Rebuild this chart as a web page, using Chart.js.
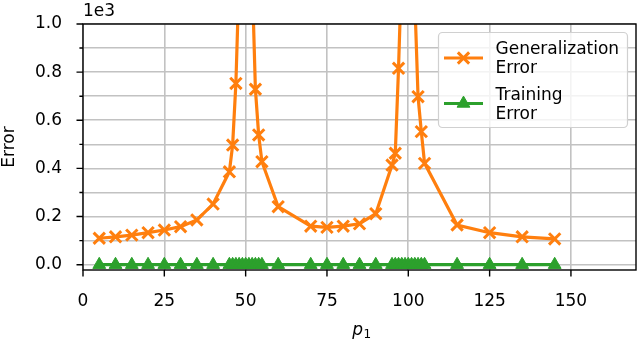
<!DOCTYPE html>
<html><head><meta charset="utf-8">
<script src="https://cdn.jsdelivr.net/npm/chart.js@4/dist/chart.umd.min.js"></script>
<style>html,body{margin:0;padding:0;background:#fff}</style>
</head><body>
<canvas id="c" width="638" height="342"></canvas>
<script>
// ---- data ----
const pValues = [5,10,15,20,25,30,35,40,45,46,47,48,49,50,51,52,53,54,55,60,70,75,80,85,90,95,96,97,98,99,100,101,102,103,104,105,115,125,135,145];
const generalizationError = [110,116,123,133,144,158,186,252,386,497,753,1200,2500,4000,2500,1200,729,539,428,241,160,155,160,170,212,414,463,816,1250,2500,4000,2500,1100,698,553,421,165,133,116,107];
const trainingError = [0,0,0,0,0,0,0,0,0,0,0,0,0,0,0,0,0,0,0,0,0,0,0,0,0,0,0,0,0,0,0,0,0,0,0,0,0,0,0,0];
const seriesLabels = ['Generalization\nError', 'Training\nError'];
const xTicks = [0,25,50,75,100,125,150];
const yTickValues = [0,100,200,300,400,500,600,700,800,900,1000];
const yMajorTicks = [0,200,400,600,800,1000];
const yTickLabels = ['0.0','0.2','0.4','0.6','0.8','1.0'];
const yOffsetText = '1e3';
const xAxisTitle = ['p','1'];
const yAxisTitle = 'Error';

const FONT = "'DejaVu Sans', sans-serif";
const FS = 17;

function toPoints(xs, ys){ return xs.map((x,i)=>({x:x, y:ys[i]})); }

function drawMarker(c, style, r, bw, x, y, color){
  c.save();
  c.strokeStyle = color; c.fillStyle = color; c.lineWidth = bw;
  if (Chart.helpers && Chart.helpers.drawPoint) {
    Chart.helpers.drawPoint(c, {pointStyle: style, radius: r, rotation: 0, borderWidth: bw}, x, y);
  }
  c.restore();
}

function noPad(s){ s.paddingTop = 0; s.paddingBottom = 0; s.paddingLeft = 0; s.paddingRight = 0; }

const decor = {
  id: 'decor',
  afterDatasetsDraw(chart){
    const c = chart.ctx, a = chart.chartArea;
    const xs = chart.scales.x, ys = chart.scales.y;
    c.save();
    c.strokeStyle = '#000'; c.lineWidth = 1.4; c.lineCap = 'butt';
    c.strokeRect(a.left, a.top, a.right - a.left, a.bottom - a.top);
    c.beginPath();
    xTicks.forEach(v => { const px = xs.getPixelForValue(v); c.moveTo(px, a.bottom); c.lineTo(px, a.bottom + 6.5); });
    yTickValues.forEach(v => {
      const py = ys.getPixelForValue(v);
      const len = yMajorTicks.includes(v) ? 6.5 : 3.6;
      c.moveTo(a.left - len, py); c.lineTo(a.left, py);
    });
    c.stroke();
    c.fillStyle = '#000';
    c.font = FS + 'px ' + FONT;
    c.textAlign = 'left'; c.textBaseline = 'alphabetic';
    c.fillText(yOffsetText, a.left, a.top - 8);
    c.save();
    c.translate(10, (a.top + a.bottom) / 2);
    c.rotate(-Math.PI / 2);
    c.textAlign = 'center'; c.textBaseline = 'middle';
    c.fillText(yAxisTitle, 0, 0);
    c.restore();
    c.font = 'italic ' + FS + 'px ' + FONT;
    const wP = c.measureText(xAxisTitle[0]).width;
    c.font = Math.round(FS * 0.7) + 'px ' + FONT;
    const w1 = c.measureText(xAxisTitle[1]).width;
    const cx = (a.left + a.right) / 2;
    const x0 = cx - (wP + w1) / 2 + 2;
    const base = 335;
    c.font = 'italic ' + FS + 'px ' + FONT;
    c.fillText(xAxisTitle[0], x0, base);
    c.font = Math.round(FS * 0.7) + 'px ' + FONT;
    c.fillText(xAxisTitle[1], x0 + wP + 0.5, base + 3);
    c.restore();
  },
  afterDraw(chart){
    const c = chart.ctx, a = chart.chartArea;
    const W = 189, H = 95, R = 4;
    const right = a.right - 8.5, top = a.top + 8.5, left = right - W;
    c.save();
    c.beginPath();
    c.moveTo(left + R, top);
    c.arcTo(left + W, top, left + W, top + H, R);
    c.arcTo(left + W, top + H, left, top + H, R);
    c.arcTo(left, top + H, left, top, R);
    c.arcTo(left, top, left + W, top, R);
    c.closePath();
    c.fillStyle = 'rgba(255,255,255,0.8)';
    c.fill();
    c.strokeStyle = '#d0d0d0'; c.lineWidth = 1.2;
    c.stroke();
    const entryTop = [top, top + 45.5];
    chart.data.datasets.forEach((ds, i) => {
      const t = entryTop[i];
      const hy = t + 25.5;
      c.strokeStyle = ds.borderColor; c.lineWidth = ds.borderWidth; c.lineCap = 'butt';
      c.beginPath(); c.moveTo(left + 5.5, hy); c.lineTo(left + 44.5, hy); c.stroke();
      drawMarker(c, ds.pointStyle, ds.pointRadius, ds.pointBorderWidth, left + 25, hy, ds.borderColor);
      c.fillStyle = '#000';
      c.font = FS + 'px ' + FONT;
      c.textAlign = 'left'; c.textBaseline = 'alphabetic';
      ds.label.split('\n').forEach((line, k) => c.fillText(line, left + 57, t + 21.5 + k * 19));
    });
    c.restore();
  }
};

new Chart(document.getElementById('c').getContext('2d'), {
  type: 'line',
  data: {
    datasets: [
      {
        label: seriesLabels[0],
        data: toPoints(pValues, generalizationError),
        borderColor: '#ff7f0e', backgroundColor: '#ff7f0e',
        borderWidth: 3.2, tension: 0,
        pointStyle: 'crossRot', pointRadius: 8, pointBorderWidth: 3,
        pointBackgroundColor: '#ff7f0e', pointBorderColor: '#ff7f0e',
        order: 1
      },
      {
        label: seriesLabels[1],
        data: toPoints(pValues, trainingError),
        borderColor: '#2ca02c', backgroundColor: '#2ca02c',
        borderWidth: 3.2, tension: 0,
        pointStyle: 'triangle', pointRadius: 7.4, pointBorderWidth: 1,
        pointBackgroundColor: '#2ca02c', pointBorderColor: '#2ca02c',
        order: 0
      }
    ]
  },
  options: {
    responsive: false, animation: false, devicePixelRatio: 1,
    layout: { autoPadding: false, padding: { left: 0, right: 2, top: 24, bottom: 0 } },
    plugins: { legend: { display: false }, tooltip: { enabled: false }, title: { display: false } },
    scales: {
      x: {
        type: 'linear', min: 0, max: 170,
        afterBuildTicks: s => { s.ticks = xTicks.map(v => ({ value: v })); },
        afterFit: s => { s.height = 72; noPad(s); },
        border: { display: false },
        grid: { color: '#c2c2c2', lineWidth: 1.6, drawTicks: false },
        ticks: { color: '#000', padding: 21, maxRotation: 0, font: { family: FONT, size: FS }, callback: v => String(v) }
      },
      y: {
        type: 'linear', min: -22, max: 1000,
        afterBuildTicks: s => { s.ticks = yTickValues.map(v => ({ value: v })); },
        afterFit: s => { s.width = 83; noPad(s); },
        border: { display: false },
        grid: { color: '#c2c2c2', lineWidth: 1.6, drawTicks: false },
        ticks: {
          color: '#000', padding: 21, font: { family: FONT, size: FS },
          callback: v => { const k = yMajorTicks.indexOf(v); return k >= 0 ? yTickLabels[k] : ''; }
        }
      }
    }
  },
  plugins: [decor]
});
</script>
</body></html>
